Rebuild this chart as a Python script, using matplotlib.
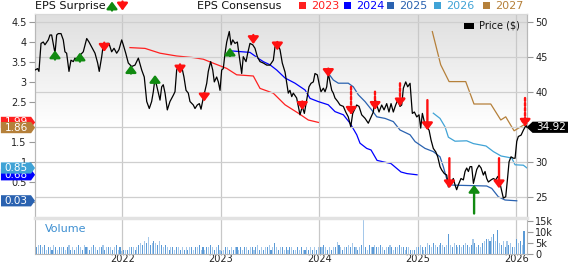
import numpy as np
import matplotlib
matplotlib.use("Agg")
import matplotlib.pyplot as plt
from matplotlib.path import Path
from matplotlib.patches import Rectangle
from matplotlib.transforms import blended_transform_factory

# ---- data (x values are decimal years) ----
price_pts = [
    (2021.114, 43.1), (2021.141, 43.3), (2021.154, 42.9), (2021.175, 46.9), (2021.198, 47.1),
    (2021.215, 46.7), (2021.249, 47.4), (2021.266, 48.1), (2021.283, 48.1), (2021.299, 46.9),
    (2021.317, 45.5), (2021.334, 48.1), (2021.350, 48.3), (2021.378, 48.3), (2021.401, 47.4),
    (2021.418, 45.7), (2021.435, 45.5), (2021.459, 42.9), (2021.479, 44.5), (2021.503, 44.3),
    (2021.520, 44.8), (2021.547, 44.5), (2021.570, 45.2), (2021.604, 45.7), (2021.639, 47.6),
    (2021.662, 47.1), (2021.689, 46.4), (2021.723, 45.5), (2021.750, 44.1), (2021.766, 42.9),
    (2021.791, 45.0), (2021.807, 46.7), (2021.824, 46.4), (2021.842, 46.9), (2021.865, 46.9),
    (2021.892, 45.7), (2021.916, 46.2), (2021.943, 45.5), (2021.966, 46.0), (2021.994, 47.4),
    (2022.010, 46.7), (2022.035, 45.5), (2022.061, 44.1), (2022.095, 43.6), (2022.129, 43.8),
    (2022.163, 44.8), (2022.197, 43.1), (2022.223, 42.1), (2022.248, 38.6), (2022.274, 37.6),
    (2022.298, 38.6), (2022.315, 40.0), (2022.332, 41.9), (2022.355, 40.5), (2022.383, 38.8),
    (2022.400, 40.7), (2022.416, 41.0), (2022.434, 39.8), (2022.457, 37.4), (2022.484, 38.6),
    (2022.518, 39.5), (2022.535, 40.0), (2022.552, 43.1), (2022.569, 43.6), (2022.586, 43.1),
    (2022.603, 43.6), (2022.626, 42.1), (2022.647, 40.2), (2022.670, 39.8), (2022.687, 38.6),
    (2022.721, 38.1), (2022.738, 37.6), (2022.761, 38.1), (2022.782, 38.3), (2022.799, 37.5),
    (2022.822, 39.1), (2022.857, 41.2), (2022.873, 42.9), (2022.897, 44.3), (2022.918, 43.1),
    (2022.934, 41.4), (2022.958, 42.1), (2022.975, 41.4), (2022.992, 40.2), (2023.009, 43.1),
    (2023.025, 43.3), (2023.043, 45.5), (2023.060, 47.1), (2023.086, 48.6), (2023.104, 46.7),
    (2023.121, 47.4), (2023.144, 46.9), (2023.168, 47.1), (2023.188, 45.0), (2023.212, 42.6),
    (2023.228, 45.0), (2023.256, 44.3), (2023.273, 45.5), (2023.296, 46.9), (2023.324, 46.7),
    (2023.347, 46.2), (2023.371, 45.0), (2023.398, 44.3), (2023.431, 44.1), (2023.466, 43.8),
    (2023.499, 43.8), (2023.533, 44.5), (2023.550, 46.4), (2023.574, 46.9), (2023.601, 46.0),
    (2023.624, 44.1), (2023.652, 42.8), (2023.669, 41.2), (2023.685, 39.8), (2023.702, 40.2),
    (2023.720, 39.3), (2023.736, 39.8), (2023.770, 39.1), (2023.804, 36.7), (2023.827, 37.9),
    (2023.848, 36.9), (2023.872, 38.8), (2023.895, 40.7), (2023.916, 41.2), (2023.939, 41.4),
    (2023.956, 42.6), (2023.980, 42.4), (2024.000, 41.0), (2024.017, 40.0), (2024.041, 40.5),
    (2024.058, 40.0), (2024.075, 40.7), (2024.091, 42.6), (2024.109, 41.4), (2024.126, 40.2),
    (2024.142, 39.8), (2024.159, 39.1), (2024.187, 38.6), (2024.210, 38.1), (2024.244, 37.9),
    (2024.268, 37.1), (2024.294, 36.4), (2024.319, 35.0), (2024.339, 36.9), (2024.362, 37.6),
    (2024.379, 38.1), (2024.403, 37.9), (2024.430, 36.7), (2024.464, 36.2), (2024.497, 35.5),
    (2024.525, 36.4), (2024.548, 37.1), (2024.565, 39.1), (2024.583, 38.1), (2024.606, 37.1),
    (2024.633, 38.1), (2024.657, 37.4), (2024.684, 38.3), (2024.707, 37.1), (2024.728, 38.3),
    (2024.751, 37.1), (2024.775, 38.1), (2024.796, 38.8), (2024.819, 37.9), (2024.836, 38.1),
    (2024.853, 40.5), (2024.877, 41.4), (2024.897, 40.7), (2024.921, 41.2), (2024.944, 36.9),
    (2024.965, 37.1), (2024.989, 36.4), (2025.012, 36.7), (2025.029, 34.8), (2025.046, 36.9),
    (2025.066, 35.7), (2025.090, 35.0), (2025.114, 34.5), (2025.134, 33.1), (2025.157, 31.9),
    (2025.182, 31.4), (2025.202, 30.7), (2025.225, 29.3), (2025.243, 28.8), (2025.269, 28.3),
    (2025.293, 28.1), (2025.310, 26.4), (2025.334, 26.9), (2025.360, 27.6), (2025.377, 26.7),
    (2025.394, 26.0), (2025.411, 26.7), (2025.438, 27.6), (2025.462, 27.4), (2025.479, 28.6),
    (2025.496, 29.1), (2025.513, 28.6), (2025.530, 29.3), (2025.547, 29.3), (2025.564, 26.9),
    (2025.581, 27.9), (2025.598, 28.9), (2025.621, 29.5), (2025.642, 29.1), (2025.665, 28.1),
    (2025.682, 28.6), (2025.699, 27.6), (2025.716, 27.1), (2025.743, 27.4), (2025.767, 27.6),
    (2025.791, 27.4), (2025.811, 27.9), (2025.827, 27.4), (2025.845, 26.2), (2025.868, 24.8),
    (2025.892, 25.0), (2025.909, 27.4), (2025.926, 30.0), (2025.946, 30.7), (2025.969, 30.5),
    (2025.987, 30.5), (2026.004, 32.9), (2026.020, 33.6), (2026.048, 33.8), (2026.071, 34.5),
    (2026.098, 35.2), (2026.108, 34.92),
]

cons_2023 = [(2022.078, 3.86), (2022.231, 3.84), (2022.383, 3.72), (2022.552, 3.65), (2022.721, 3.61),
             (2022.822, 3.57), (2022.924, 3.47), (2023.060, 3.34), (2023.161, 3.18), (2023.330, 3.15),
             (2023.398, 2.84), (2023.533, 2.72), (2023.652, 2.43), (2023.787, 2.22), (2023.888, 2.05),
             (2023.990, 1.99)]
cons_2024 = [(2023.093, 3.78), (2023.296, 3.74), (2023.381, 3.59), (2023.431, 3.51), (2023.499, 3.43),
             (2023.567, 3.30), (2023.652, 3.10), (2023.753, 2.97), (2023.855, 2.80), (2023.906, 2.59),
             (2023.990, 2.51), (2024.091, 2.43), (2024.159, 2.26), (2024.244, 2.18), (2024.312, 1.97),
             (2024.380, 1.68), (2024.413, 1.47), (2024.481, 1.34), (2024.525, 1.30), (2024.586, 1.04),
             (2024.728, 0.96), (2024.829, 0.75), (2024.890, 0.71), (2024.992, 0.68)]
cons_2025 = [(2024.091, 3.22), (2024.142, 3.05), (2024.193, 2.97), (2024.294, 2.97), (2024.345, 2.88),
             (2024.396, 2.68), (2024.464, 2.51), (2024.532, 2.30), (2024.583, 2.13), (2024.667, 2.09),
             (2024.751, 2.01), (2024.819, 1.80), (2024.921, 1.68), (2024.972, 1.51), (2025.073, 1.34),
             (2025.157, 1.26), (2025.225, 1.13), (2025.259, 0.88), (2025.310, 0.43), (2025.377, 0.42),
             (2025.699, 0.40), (2025.750, 0.34), (2025.817, 0.13), (2025.885, 0.05), (2026.004, 0.03)]
cons_2026 = [(2025.157, 2.22), (2025.225, 2.09), (2025.276, 1.88), (2025.310, 1.62), (2025.377, 1.52),
             (2025.496, 1.53), (2025.564, 1.46), (2025.692, 1.40), (2025.767, 1.26), (2025.845, 1.15),
             (2025.953, 1.10), (2025.987, 0.93), (2026.071, 0.92), (2026.108, 0.85)]
cons_2027 = [(2025.147, 4.26), (2025.232, 3.43), (2025.317, 3.01), (2025.486, 3.01), (2025.570, 2.45),
             (2025.740, 2.45), (2025.842, 2.05), (2025.892, 2.13), (2025.977, 1.78), (2026.078, 1.93),
             (2026.108, 1.86)]

cons_years = ["2023", "2024", "2025", "2026", "2027"]
cons_colors = ["#ff2020", "#0000ff", "#2a62b0", "#40a3d6", "#b5803a"]

# EPS surprise arrows: date, tail price, tip price, dashed stem
surp_t = [2021.317, 2021.570, 2021.817, 2022.088, 2022.332, 2022.586, 2022.832, 2023.093, 2023.330, 2023.574,
          2023.827, 2024.091, 2024.322, 2024.565, 2024.819, 2025.097, 2025.320, 2025.571, 2025.824, 2026.088]
surp_tail = [44.6, 44.3, 47.0, 42.6, 41.2, 43.9, 39.8, 45.1, 48.1, 47.1,
             38.6, 43.3, 40.7, 40.0, 41.2, 38.8, 30.5, 22.6, 30.5, 39.1]
surp_tip = [45.9, 45.6, 45.7, 43.8, 42.4, 42.6, 38.6, 46.3, 46.8, 45.9,
            37.4, 42.1, 36.7, 37.4, 37.9, 34.5, 26.2, 26.7, 26.2, 35.0]
surp_dashed = [False] * 12 + [True, True, True, False, False, False, False, True]

# weekly volume, thousands of shares
volume = [
    2, 3, 4, 4, 3, 4, 2, 3, 3, 2, 4, 3, 2, 3, 3, 3, 2, 3, 4, 2,
    3, 2, 3, 4, 3, 2, 4, 3, 3, 2, 3, 4, 3, 2, 3, 3, 4, 2, 3, 3,
    3, 2, 3, 4, 2, 3, 1.5, 2, 2, 2, 3, 3, 3, 2, 3, 4, 5, 4, 6, 5,
    8, 4, 5, 6, 5, 4, 6, 4, 3, 4, 3, 2, 3, 3, 2, 3, 3, 2, 3, 2,
    3, 2, 3, 3, 2, 3, 3, 4, 2, 3, 2, 3, 3, 4, 3, 2, 3, 4, 2, 1.5,
    2, 3, 3, 2, 3, 2, 3, 3, 2, 3, 2, 3, 3, 2, 3, 3, 2, 3, 4, 2,
    3, 2, 3, 3, 4, 2, 3, 5, 3, 2, 3, 3, 2, 3, 2, 3, 3, 2, 2, 3,
    2, 3, 2, 2, 3, 2, 3, 2, 3, 2, 3, 3, 3, 4, 3, 2, 3, 2, 3, 3,
    5.5, 4, 3, 2, 3, 3, 4, 3, 5, 3, 3, 2, 3, 4, 15.5, 3, 2, 4, 3, 3,
    4, 3, 3, 4, 3, 2, 3, 3, 4, 3, 2, 3, 3, 4, 3, 3, 2, 3, 3, 2,
    2, 2, 3, 3, 4, 3, 2, 3, 5, 4, 3, 5, 4, 3, 4, 5, 4, 3, 4, 9,
    4, 3, 5, 4, 3, 4, 3, 4, 5, 4, 3, 4, 7, 5, 3, 4, 3, 5, 6, 7,
    7, 6, 8, 9, 6, 11, 5, 4, 6, 3, 6, 4, 5, 3, 3, 7, 5, 6, 4, 10.5,
]
vol_start = 2021.114

year_ticks = [2022, 2023, 2024, 2025, 2026]
eps_ticks = [0, 0.5, 1, 1.5, 2, 2.5, 3, 3.5, 4, 4.5]
price_ticks = [25, 30, 35, 40, 45, 50]
vol_ticks = [0, 5, 10, 15]

# ---- layout helpers (pixel positions on a 568x264 canvas) ----
W, H = 568, 264
X0, X1 = 35, 527


def fx(px):
    return px / W


def fy(py):
    return 1 - py / H


def tag_path(tip_side, padx, tip):
    def style(x0, y0, width, height, mutation_size):
        pady = 0.6
        xa, xb = x0 - padx, x0 + width + padx
        ya, yb = y0 - pady, y0 + height + pady
        ym = (ya + yb) / 2
        if tip_side == "right":
            verts = [(xa, ya), (xb, ya), (xb + tip, ym), (xb, yb), (xa, yb), (xa, ya)]
        else:
            verts = [(xa, ya), (xb, ya), (xb, yb), (xa, yb), (xa - tip, ym), (xa, ya)]
        codes = [Path.MOVETO] + [Path.LINETO] * 4 + [Path.CLOSEPOLY]
        return Path(verts, codes)
    return style


fig = plt.figure(figsize=(W / 100, H / 100), dpi=100)
fig.patch.set_facecolor("white")

ax = fig.add_axes([fx(X0), fy(218), (X1 - X0) / W, (218 - 14) / H])
axp = ax.twinx()
axv = fig.add_axes([fx(X0), fy(254), (X1 - X0) / W, (254 - 218) / H])

xlim = (2021.114, 2026.108)

# gradient background of price panel
rows = np.linspace(0, 1, 200)
shade = 0.875 + 0.125 * np.clip(rows / 0.55, 0, 1)
grad = np.repeat(shade[:, None], 2, axis=1)
ax.imshow(np.dstack([grad, grad, grad]), extent=[0, 1, 0, 1], transform=ax.transAxes,
          aspect="auto", zorder=0, interpolation="bilinear")

# consensus lines
for series, col in zip([cons_2023, cons_2024, cons_2025, cons_2026, cons_2027], cons_colors):
    t, v = zip(*series)
    ax.plot(t, v, color=col, lw=0.9, zorder=2)

ax.set_xlim(*xlim)
ax.set_ylim(-0.4, 4.7)
ax.set_xticks(year_ticks)
ax.set_yticks(eps_ticks)
ax.set_yticklabels([f"{v:g}" for v in eps_ticks])
ax.tick_params(axis="x", length=0, labelbottom=False)
ax.tick_params(axis="y", length=4, width=0.8, color="#999999", labelsize=7, pad=2, labelcolor="#222222")
ax.grid(axis="x", color="#c8c8c8", lw=0.9)
ax.set_axisbelow(True)

# price line
pt, pv = zip(*price_pts)
axp.plot(pt, pv, color="black", lw=0.9, zorder=3)
axp.set_ylim(21.96, 51.1)
axp.set_xlim(*xlim)
axp.set_yticks(price_ticks)
axp.set_yticklabels([str(v) for v in price_ticks])
axp.tick_params(axis="y", length=4, width=0.8, color="#999999", labelsize=7, pad=2, labelcolor="#222222")
axp.grid(axis="y", color="#cfcfcf", lw=0.9, zorder=0)

for a in (ax, axp):
    for side in ("left", "right"):
        a.spines[side].set_color("#b8b8b8")
    a.spines["top"].set_color("#d8d8d8")
    a.spines["bottom"].set_visible(False)

# surprise arrows
for t, tail, tip, dashed in zip(surp_t, surp_tail, surp_tip, surp_dashed):
    beat = tip > tail
    col = "#118a11" if beat else "#ff1010"
    axp.annotate("", xy=(t, tip), xytext=(t, tail),
                 arrowprops=dict(arrowstyle="-|>,head_length=0.6,head_width=0.45", mutation_scale=7,
                                 color=col, lw=1.7, shrinkA=0, shrinkB=0,
                                 linestyle=(0, (1.2, 0.9)) if dashed else "-"),
                 zorder=5)

# volume panel
vol_t = vol_start + np.arange(len(volume)) * 7 / 365.25
vol_cols = ["#a5c8ea" if i % 2 == 0 else "#5b9ad6" for i in range(len(volume))]
axv.bar(vol_t, volume, width=0.011, color=vol_cols, linewidth=0)
axv.set_xlim(*xlim)
axv.set_ylim(0, 16.6)
axv.set_xticks(year_ticks)
axv.set_xticklabels([str(y) for y in year_ticks])
axv.yaxis.tick_right()
axv.set_yticks(vol_ticks)
axv.set_yticklabels(["0" if v == 0 else f"{v}k" for v in vol_ticks])
axv.tick_params(axis="x", length=0, labelsize=7, pad=0.3, labelcolor="#222222")
axv.tick_params(axis="y", length=4, width=0.8, color="#999999", labelsize=7, pad=2, labelcolor="#222222")
axv.grid(axis="x", color="#c8c8c8", lw=0.9)
axv.set_axisbelow(True)
for side in ("left", "right", "bottom"):
    axv.spines[side].set_color("#b8b8b8")
axv.spines["top"].set_color("#e2e2e2")
axv.spines["top"].set_linewidth(2.5)
axv.text((45 - X0) / (X1 - X0), 0.7, "Volume", transform=axv.transAxes,
         fontsize=8, color="#3d8fd1", va="center", ha="left")

# header texts
fig.text(fx(35), fy(6), "EPS Surprise", fontsize=8, va="center", ha="left", color="#111111")
for xp, up, col in [(112, True, "#118a11"), (122.5, False, "#ff1010")]:
    tip_y, tail_y = (1.5, 10.5) if up else (10.5, 1.5)
    fig.add_artist(plt.Annotation("", xy=(fx(xp), fy(tip_y)), xytext=(fx(xp), fy(tail_y)),
                                  xycoords="figure fraction", textcoords="figure fraction",
                                  arrowprops=dict(arrowstyle="-|>,head_length=0.6,head_width=0.45",
                                                  mutation_scale=7, color=col, lw=1.7,
                                                  shrinkA=0, shrinkB=0)))
fig.text(fx(197), fy(6), "EPS Consensus", fontsize=8, va="center", ha="left", color="#111111")
leg_x = [299, 344, 387, 434, 483]
for xp, yr, col in zip(leg_x, cons_years, cons_colors):
    fig.add_artist(Rectangle((fx(xp), fy(9)), 7 / W, 7 / H, transform=fig.transFigure,
                             facecolor=col, edgecolor="none"))
    fig.text(fx(xp + 12), fy(6), yr, fontsize=8, va="center", ha="left", color=col)

fig.add_artist(Rectangle((fx(464), fy(29)), 10 / W, 6 / H, transform=fig.transFigure,
                         facecolor="black", edgecolor="none"))
fig.text(fx(479), fy(26), "Price ($)", fontsize=7, va="center", ha="left", color="#111111")

# last-value tags
left_tf = blended_transform_factory(fig.transFigure, ax.transData)
for series, col in zip([cons_2023, cons_2024, cons_2025, cons_2026, cons_2027], cons_colors):
    last = series[-1][1]
    axp.text(fx(16), last, f"{last:.2f}", transform=left_tf, fontsize=7.5, color="white",
             ha="center", va="center", zorder=20, clip_on=False,
             bbox=dict(boxstyle=tag_path("right", 3.5, 4), facecolor=col, edgecolor="none"))

right_tf = blended_transform_factory(fig.transFigure, axp.transData)
axp.text(fx(551), pv[-1], f"{pv[-1]:.2f}", transform=right_tf, fontsize=7.5, color="white",
         ha="center", va="center", zorder=20, clip_on=False,
         bbox=dict(boxstyle=tag_path("left", 3.5, 6), facecolor="black", edgecolor="none"))

fig.savefig("out.png", dpi=100)
